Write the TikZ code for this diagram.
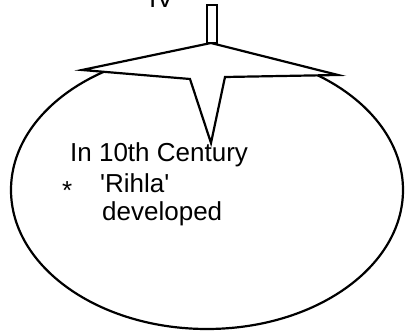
\documentclass[tikz,border=0pt]{standalone}
\usepackage{fontspec}
\newfontfamily\labelfont{Liberation Sans}
\tikzset{
    label text/.style={anchor=base west, inner sep=0pt, font=\labelfont\fontsize{26}{28}\selectfont},
    outline/.style={line width=2.2pt, line join=miter}
}
\begin{document}
\begin{tikzpicture}[x=1pt, y=-1pt]

            % the frame
            \useasboundingbox (0, 0) rectangle (405, 331);
            \path[clip] (0, 0) rectangle (405, 331);

            % the body
            \draw[outline] (207, 190) ellipse [x radius=196, y radius=139];

            % the star
            \draw[outline, fill=white] (82, 70) -- (211, 43) -- (338, 75) -- (225, 77)
                -- (211, 143) -- (190, 79) -- cycle;
            \draw[outline, fill=white] (207, 5) rectangle (217, 43);

            % labels
            \node[label text] (num) at (149, 8) {IV};
            \node[label text] (century) at (70, 162) {In 10th Century};
            \node[label text] (star) at (62, 200) {*};
            \node[label text] (rihla) at (100, 193) {'Rihla'};
            \node[label text] (developed) at (102, 221) {developed};
        \end{tikzpicture}
\end{document}
